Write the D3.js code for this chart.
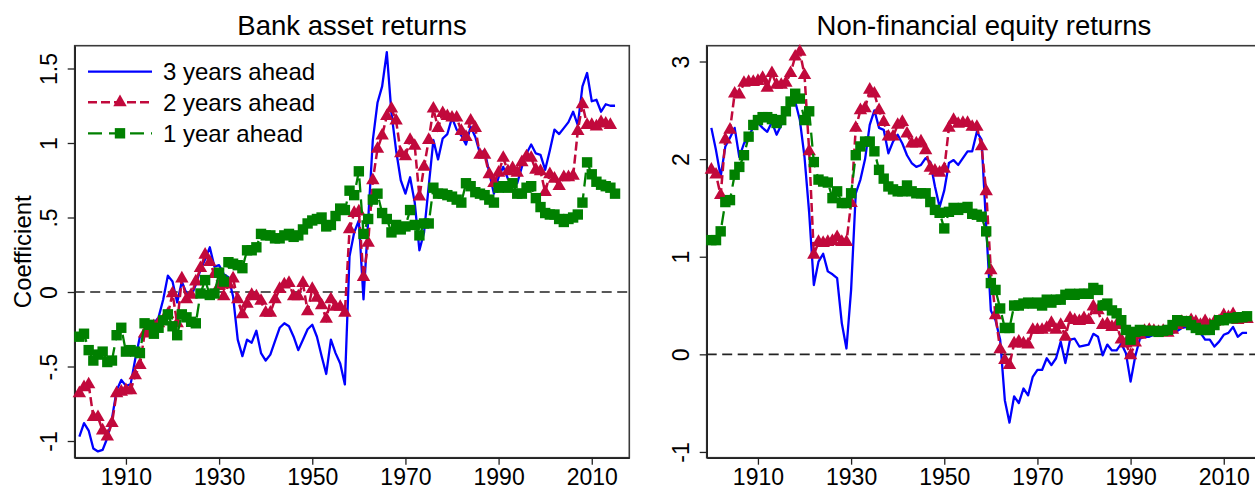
<!DOCTYPE html>
<html><head><meta charset="utf-8">
<script src="https://cdn.jsdelivr.net/npm/d3@7"></script>
<style>
body{margin:0;background:#fff}
svg{display:block}
text{font-family:"Liberation Sans", Arial, sans-serif; fill:#000}
</style>
</head><body>
<svg id="chart" width="1255" height="490"></svg>
<script>
// ---- DATA (annual, 1900-2015) ----
const startYear = 1900, endYear = 2015;
const years = d3.range(startYear, endYear + 1);

const seriesNames = ["3 years ahead", "2 years ahead", "1 year ahead"];

// Bank asset returns
const bank3y = [
 -0.97,-0.88,-0.93,-1.05,-1.07,-1.06,-0.98,-0.85,-0.66,-0.59,
 -0.63,-0.62,-0.45,-0.30,-0.27,-0.25,-0.21,-0.17,-0.05,0.11,
 0.07,-0.07,0.07,-0.01,-0.03,0.05,0.15,0.22,0.30,0.17,
 0.18,0.12,0.10,-0.03,-0.32,-0.43,-0.32,-0.34,-0.26,-0.41,
 -0.46,-0.42,-0.33,-0.24,-0.21,-0.23,-0.30,-0.39,-0.32,-0.25,
 -0.22,-0.30,-0.43,-0.55,-0.32,-0.41,-0.48,-0.62,0.24,0.40,
 0.48,-0.05,0.48,1.02,1.27,1.38,
 1.61,1.20,0.95,0.75,0.66,0.77,0.60,0.28,0.40,0.71,
 1.02,0.89,1.03,1.06,1.17,1.09,1.05,0.99,1.11,1.04,
 0.93,0.95,0.80,0.66,0.77,0.84,0.76,0.73,0.73,0.84,
 0.93,0.99,0.93,0.92,0.82,0.95,1.09,1.06,1.10,1.14,
 1.21,1.12,1.38,1.47,1.28,1.29,1.21,1.26,1.25,1.25
];
const bank2y = [
 -0.68,-0.64,-0.62,-0.84,-0.84,-0.93,-0.97,-0.88,-0.68,-0.67,
 -0.66,-0.66,-0.56,-0.49,-0.28,-0.27,-0.23,-0.21,-0.19,-0.15,
 -0.01,-0.21,0.09,-0.05,-0.02,0.07,0.16,0.25,0.20,0.12,
 0.04,-0.03,0.05,0.09,-0.05,-0.15,-0.08,-0.02,-0.03,-0.06,
 -0.14,-0.14,-0.05,0.02,0.05,0.06,-0.03,-0.03,0.06,-0.13,
 0.02,-0.04,-0.09,-0.18,-0.05,-0.10,-0.10,-0.14,
 0.42,0.53,0.54,0.10,0.33,0.75,0.96,1.05,1.18,1.23,
 1.15,0.93,0.91,1.02,0.98,0.64,0.84,1.02,1.23,1.10,
 1.20,1.18,1.17,1.17,1.08,1.04,1.15,1.10,0.92,0.92,
 0.79,0.73,0.80,0.90,0.81,0.83,0.80,0.87,0.91,0.90,
 0.82,
 0.81,0.67,0.79,0.76,0.71,0.77,0.77,0.78,1.08,1.26,
 1.12,1.12,1.11,1.14,1.13,1.12
];
const bank1y = [
 -0.30,-0.28,-0.39,-0.46,-0.42,-0.40,-0.47,-0.46,-0.29,-0.24,
 -0.40,-0.39,-0.40,-0.41,-0.21,-0.22,-0.28,-0.24,-0.19,-0.15,
 -0.23,-0.29,-0.15,-0.17,-0.20,-0.21,-0.01,0.08,-0.02,-0.01,
 0.13,0.07,0.20,0.19,0.18,0.16,0.28,0.28,0.30,0.39,
 0.38,0.38,0.36,0.36,0.38,0.39,0.37,0.38,0.42,0.46,
 0.48,0.49,0.50,0.44,0.45,0.51,0.56,
 0.55,0.68,0.65,0.81,0.39,0.49,0.62,0.66,0.53,0.49,
 0.40,0.45,0.42,0.44,0.55,0.45,0.38,0.46,0.46,0.70,
 0.66,0.66,0.65,0.64,0.62,0.60,0.73,0.71,0.67,0.66,
 0.65,0.62,0.60,0.70,0.71,0.70,0.73,0.66,0.66,0.70,
 0.71,0.63,0.57,0.53,0.52,0.52,0.49,0.47,0.49,0.50,
 0.52,0.60,0.87,0.79,0.74,0.72,0.71,0.70,0.66
];

// Non-financial equity returns
const equity3y = [
 2.32,2.09,1.82,2.13,2.22,2.32,2.02,2.16,2.23,2.33,
 2.37,2.32,2.28,2.38,2.25,2.35,2.47,2.57,2.59,2.40,
 2.02,1.45,0.71,0.95,1.03,0.85,0.82,0.78,0.32,0.06,
 0.66,1.65,1.79,2.00,2.35,2.50,
 2.32,2.30,2.06,2.18,2.25,2.16,2.04,1.96,1.92,1.94,
 2.01,1.97,1.72,1.51,1.68,1.96,1.99,1.94,2.01,2.08,
 2.08,2.28,2.20,1.31,0.45,0.35,0.15,
 -0.47,-0.70,-0.43,-0.50,-0.35,-0.42,-0.23,-0.16,-0.16,-0.04,
 -0.11,-0.04,0.13,-0.09,0.15,0.16,0.08,0.09,0.10,0.21,
 0.18,-0.01,0.10,0.04,0.04,0.11,0.01,-0.28,-0.02,0.16,
 0.18,0.18,0.20,0.22,0.20,0.21,0.22,0.24,0.27,0.28,
 0.28,0.26,0.22,0.15,0.15,0.08,0.13,0.20,0.22,0.28,
 0.18,0.22,0.22
];
const equity2y = [
 1.89,1.84,1.63,2.20,2.30,2.67,2.66,2.78,2.79,2.79,
 2.80,2.83,2.73,2.88,2.76,2.76,2.78,2.88,3.05,3.10,
 2.86,2.08,1.02,
 1.15,1.14,1.15,1.16,1.20,1.15,1.15,
 1.55,2.32,2.50,2.52,2.71,2.67,2.50,2.38,2.23,2.23,
 2.35,2.38,2.26,2.16,2.16,2.18,2.09,1.91,1.88,1.86,
 1.90,2.32,2.40,2.36,2.37,2.37,2.33,2.33,2.13,1.67,
 0.86,0.40,0.05,-0.06,-0.11,0.11,0.13,0.11,0.10,0.25,
 0.25,0.25,0.27,0.32,0.25,0.30,0.18,0.37,0.35,0.34,
 0.37,0.35,0.49,0.45,0.30,0.31,0.28,0.30,0.15,0.11,
 -0.01,0.12,
 0.20,0.24,0.25,0.24,0.23,0.24,0.22,0.25,0.30,0.33,
 0.32,0.35,0.33,0.30,0.34,0.30,0.33,0.34,0.40,0.38,
 0.41,0.35,0.36,0.36
];
const equity1y = [
 1.17,1.17,1.26,1.56,1.58,1.84,1.92,2.04,2.23,2.35,
 2.40,2.43,2.43,2.41,2.37,2.40,2.49,2.59,2.67,2.62,
 2.40,2.49,1.97,1.79,1.77,1.76,1.60,1.67,1.55,1.55,
 1.65,2.04,2.13,2.18,2.18,2.08,1.89,1.80,1.72,1.69,
 1.67,1.67,1.73,1.67,1.65,1.65,1.65,1.56,1.48,1.45,
 1.29,1.46,1.50,1.48,1.50,1.51,1.44,1.43,1.41,1.26,
 0.73,0.66,0.47,0.27,0.27,
 0.50,0.50,0.52,0.53,0.52,0.53,0.50,0.56,0.53,0.56,
 0.56,0.61,0.62,0.61,0.62,0.62,0.62,
 0.68,0.66,0.50,0.52,0.45,0.42,0.35,0.25,0.15,0.23,
 0.25,0.24,0.24,0.24,0.23,0.24,0.25,0.30,0.35,0.34,
 0.34,0.30,0.27,0.25,0.25,0.25,0.30,0.35,0.35,0.37,
 0.37,0.38,0.38,0.39
];

const xTicks = [1910, 1930, 1950, 1970, 1990, 2010];
const bankTicks = [-1, -0.5, 0, 0.5, 1, 1.5];
const equityTicks = [-1, 0, 1, 2, 3];
const titles = ["Bank asset returns", "Non-financial equity returns"];
const yTitle = "Coefficient";

// ---- STYLE ----
const colors = ["#0000ff", "#c1093c", "#008000"];
const svg = d3.select("#chart");
const fmt = v => {
  if (v === 0) return "0";
  let s = String(v);
  return s.replace(/^0\./, ".").replace(/^-0\./, "-.");
};

const panels = [
  {x0: 74.7, x1: 629.3, yDom: [-1.112, 1.653], ticks: bankTicks, data: [bank3y, bank2y, bank1y], title: titles[0], legend: true, ytitle: true},
  {x0: 706.7, x1: 1261.3, yDom: [-1.059, 3.162], ticks: equityTicks, data: [equity3y, equity2y, equity1y], title: titles[1], legend: false, ytitle: false}
];
const yTop = 45.7, yBot = 457.7;
const xDom = [1899.0, 2018.06];

const triangle = d3.symbol().type(d3.symbolTriangle).size(78);
const square = d3.symbol().type(d3.symbolSquare).size(108);

panels.forEach(p => {
  const x = d3.scaleLinear().domain(xDom).range([p.x0, p.x1]);
  const y = d3.scaleLinear().domain(p.yDom).range([yBot, yTop]);
  const g = svg.append("g");

  // frame
  g.append("rect").attr("x", p.x0).attr("y", yTop).attr("width", p.x1 - p.x0).attr("height", yBot - yTop)
    .attr("fill", "none").attr("stroke", "#3a3a3a").attr("stroke-width", 1.6);

  // zero line
  g.append("line").attr("x1", p.x0).attr("x2", p.x1).attr("y1", y(0)).attr("y2", y(0))
    .attr("stroke", "#222").attr("stroke-width", 1.6).attr("stroke-dasharray", "10,5.5");

  // x axis
  const xa = g.append("g").attr("transform", `translate(0,${yBot})`)
    .call(d3.axisBottom(x).tickValues(xTicks).tickFormat(d3.format("d")).tickSize(7).tickSizeOuter(0));
  xa.select(".domain").attr("stroke", "#222").attr("stroke-width", 1.6);
  xa.selectAll(".tick line").attr("stroke", "#222").attr("stroke-width", 1.3);
  xa.selectAll(".tick text").attr("font-size", 23).attr("dy", null).attr("y", 27.5)
    .attr("font-family", '"Liberation Sans", Arial, sans-serif').attr("fill", "#000");

  // y axis
  const ya = g.append("g").attr("transform", `translate(${p.x0},0)`)
    .call(d3.axisLeft(y).tickValues(p.ticks).tickFormat(fmt).tickSize(7).tickSizeOuter(0));
  ya.select(".domain").attr("stroke", "#222").attr("stroke-width", 1.6);
  ya.selectAll(".tick line").attr("stroke", "#222").attr("stroke-width", 1.3);
  ya.selectAll(".tick text").attr("font-size", 23).attr("x", null).attr("dy", null)
    .attr("text-anchor", "middle").attr("transform", "translate(-18,0) rotate(-90)")
    .attr("font-family", '"Liberation Sans", Arial, sans-serif').attr("fill", "#000");

  // title
  g.append("text").attr("x", (p.x0 + p.x1) / 2).attr("y", 35).attr("text-anchor", "middle")
    .attr("font-size", 27.5).text(p.title);

  if (p.ytitle) {
    g.append("text").attr("transform", `translate(31,${(yTop + yBot) / 2}) rotate(-90)`)
      .attr("text-anchor", "middle").attr("font-size", 24).text(yTitle);
  }

  const line = d3.line().x((d, i) => x(years[i])).y(d => y(d));
  // blue 3y: solid
  g.append("path").datum(p.data[0]).attr("d", line).attr("fill", "none")
    .attr("stroke", colors[0]).attr("stroke-width", 2.3).attr("stroke-linejoin", "round");
  // red 2y: dashed + triangles
  g.append("path").datum(p.data[1]).attr("d", line).attr("fill", "none")
    .attr("stroke", colors[1]).attr("stroke-width", 2.5).attr("stroke-dasharray", "9,4");
  g.append("g").selectAll("path").data(p.data[1]).join("path")
    .attr("d", triangle).attr("fill", colors[1])
    .attr("transform", (d, i) => `translate(${x(years[i])},${y(d)})`);
  // green 1y: long dash + squares
  g.append("path").datum(p.data[2]).attr("d", line).attr("fill", "none")
    .attr("stroke", colors[2]).attr("stroke-width", 2.3).attr("stroke-dasharray", "14,7");
  g.append("g").selectAll("path").data(p.data[2]).join("path")
    .attr("d", square).attr("fill", colors[2])
    .attr("transform", (d, i) => `translate(${x(years[i])},${y(d)})`);

  if (p.legend) {
    const rows = [71.7, 102.3, 133.3];
    const lx0 = 88, lx1 = 152, lm = 120, tx = 163;
    const lg = g.append("g");
    lg.append("line").attr("x1", lx0).attr("x2", lx1).attr("y1", rows[0]).attr("y2", rows[0])
      .attr("stroke", colors[0]).attr("stroke-width", 2.3);
    lg.append("line").attr("x1", lx0).attr("x2", lx1).attr("y1", rows[1]).attr("y2", rows[1])
      .attr("stroke", colors[1]).attr("stroke-width", 2.5).attr("stroke-dasharray", "9,4");
    lg.append("path").attr("d", triangle).attr("fill", colors[1]).attr("transform", `translate(${lm},${rows[1]})`);
    lg.append("line").attr("x1", lx0).attr("x2", lx1).attr("y1", rows[2]).attr("y2", rows[2])
      .attr("stroke", colors[2]).attr("stroke-width", 2.3).attr("stroke-dasharray", "14,7");
    lg.append("path").attr("d", square).attr("fill", colors[2]).attr("transform", `translate(${lm},${rows[2]})`);
    seriesNames.forEach((n, i) => {
      lg.append("text").attr("x", tx).attr("y", rows[i]).attr("dy", "0.36em").attr("font-size", 24).text(n);
    });
  }
});
</script>
</body></html>
